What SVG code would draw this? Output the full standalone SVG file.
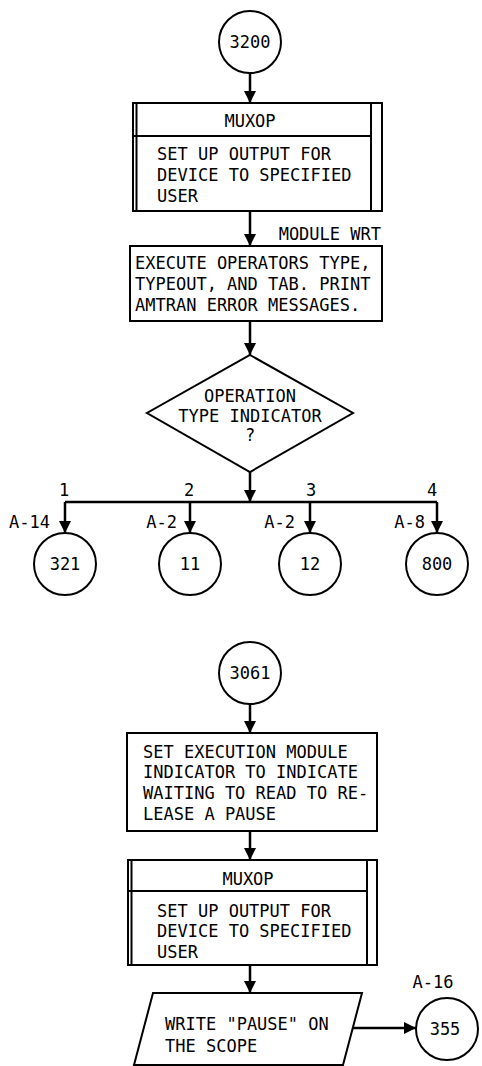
<svg xmlns="http://www.w3.org/2000/svg" width="482" height="1066" viewBox="0 0 482 1066">
<style>
.s{fill:#fff;stroke:#000;stroke-width:2}
.l{fill:none;stroke:#000;stroke-width:2}
.c{fill:none;stroke:#000;stroke-width:2.5}
text{font-family:"DejaVu Sans Mono","Liberation Mono",monospace;font-size:17px;fill:#000}
.m{text-anchor:middle}
.e{text-anchor:end}
</style>
<defs>
<marker id="ah" markerUnits="userSpaceOnUse" markerWidth="12" markerHeight="12" viewBox="0 0 12 12" refX="12" refY="6" orient="auto">
<path d="M0,0 L12,6 L0,12 z" fill="#000"/>
</marker>
</defs>
<rect width="482" height="1066" fill="#fff"/>
<g id="connectors">
<line class="c" x1="250" y1="73" x2="250" y2="103" marker-end="url(#ah)"/>
<line class="c" x1="250" y1="211" x2="250" y2="246" marker-end="url(#ah)"/>
<line class="c" x1="250" y1="321" x2="250" y2="355" marker-end="url(#ah)"/>
<line class="c" x1="250" y1="472" x2="250" y2="502" marker-end="url(#ah)"/>
<line class="c" x1="65" y1="502" x2="437" y2="502"/>
<line class="c" x1="65" y1="502" x2="65" y2="533" marker-end="url(#ah)"/>
<line class="c" x1="190" y1="502" x2="190" y2="533" marker-end="url(#ah)"/>
<line class="c" x1="310" y1="502" x2="310" y2="533" marker-end="url(#ah)"/>
<line class="c" x1="437" y1="502" x2="437" y2="533" marker-end="url(#ah)"/>
<text class="m" x="64" y="496">1</text>
<text class="m" x="189" y="496">2</text>
<text class="m" x="311" y="496">3</text>
<text class="m" x="432" y="496">4</text>
<text class="e" x="50" y="528">A-14</text>
<text class="e" x="177" y="528">A-2</text>
<text class="e" x="295" y="528">A-2</text>
<text class="e" x="425" y="528">A-8</text>
<line class="c" x1="250" y1="704" x2="250" y2="733" marker-end="url(#ah)"/>
<line class="c" x1="250" y1="831" x2="250" y2="860" marker-end="url(#ah)"/>
<line class="c" x1="250" y1="965" x2="250" y2="993" marker-end="url(#ah)"/>
<line class="c" x1="353" y1="1028" x2="416" y2="1028" marker-end="url(#ah)"/>
</g>
<g id="n3200">
<circle class="s" cx="250" cy="42" r="31"/>
<text class="m" x="250" y="48">3200</text>
</g>
<g id="muxop1">
<rect class="s" x="133" y="103" width="249" height="108"/>
<line class="l" x1="136.5" y1="103" x2="136.5" y2="211"/>
<line class="l" x1="371" y1="103" x2="371" y2="211"/>
<line class="l" x1="133" y1="136" x2="371" y2="136"/>
<text class="m" x="250" y="127">MUXOP</text>
<text x="157" y="160">SET UP OUTPUT FOR</text>
<text x="157" y="181">DEVICE TO SPECIFIED</text>
<text x="157" y="202">USER</text>
</g>
<g id="wrt">
<text class="e" x="381" y="240">MODULE WRT</text>
<rect class="s" x="130" y="246" width="252" height="75"/>
<text x="135" y="269">EXECUTE OPERATORS TYPE,</text>
<text x="135" y="290">TYPEOUT, AND TAB. PRINT</text>
<text x="135" y="311">AMTRAN ERROR MESSAGES.</text>
</g>
<g id="decision">
<polygon class="s" points="250,355 353,413 250,472 147,413"/>
<text class="m" x="250" y="402">OPERATION</text>
<text class="m" x="250" y="422">TYPE INDICATOR</text>
<text class="m" x="250" y="441">?</text>
</g>
<g id="n321">
<circle class="s" cx="65" cy="564" r="31"/>
<text class="m" x="65" y="570">321</text>
</g>
<g id="n11">
<circle class="s" cx="190" cy="564" r="31"/>
<text class="m" x="190" y="570">11</text>
</g>
<g id="n12">
<circle class="s" cx="310" cy="564" r="31"/>
<text class="m" x="310" y="570">12</text>
</g>
<g id="n800">
<circle class="s" cx="437" cy="564" r="31"/>
<text class="m" x="437" y="570">800</text>
</g>
<g id="n3061">
<circle class="s" cx="250" cy="673" r="31"/>
<text class="m" x="250" y="679">3061</text>
</g>
<g id="setexec">
<rect class="s" x="127" y="733" width="250" height="98"/>
<text x="143" y="758">SET EXECUTION MODULE</text>
<text x="143" y="778">INDICATOR TO INDICATE</text>
<text x="143" y="799">WAITING TO READ TO RE-</text>
<text x="143" y="820">LEASE A PAUSE</text>
</g>
<g id="muxop2">
<rect class="s" x="128" y="860" width="249" height="105"/>
<line class="l" x1="131.5" y1="860" x2="131.5" y2="965"/>
<line class="l" x1="367" y1="860" x2="367" y2="965"/>
<line class="l" x1="128" y1="891" x2="367" y2="891"/>
<text class="m" x="248" y="885">MUXOP</text>
<text x="157" y="917">SET UP OUTPUT FOR</text>
<text x="157" y="937">DEVICE TO SPECIFIED</text>
<text x="157" y="958">USER</text>
</g>
<g id="write">
<polygon class="s" points="153,993 362,993 343,1065 134,1065"/>
<text x="165" y="1030">WRITE "PAUSE" ON</text>
<text x="165" y="1052">THE SCOPE</text>
</g>
<g id="n355">
<text class="m" x="433" y="988">A-16</text>
<circle class="s" cx="447" cy="1029" r="31"/>
<text class="m" x="445" y="1035">355</text>
</g>
</svg>
